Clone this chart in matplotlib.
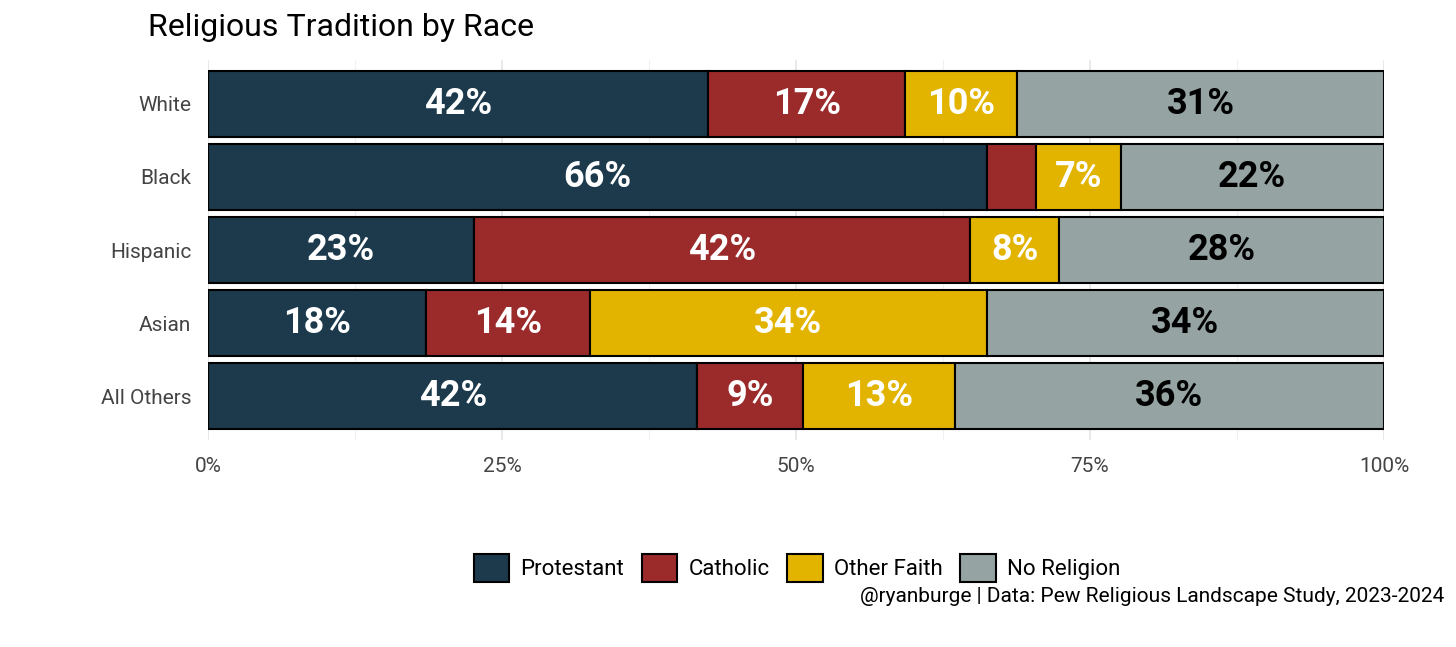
import numpy as np
import matplotlib.pyplot as plt

races = ["White", "Black", "Hispanic", "Asian", "All Others"]
traditions = ["Protestant", "Catholic", "Other Faith", "No Religion"]
protestant = [42.5, 66.2, 22.6, 18.5, 41.6]
catholic = [16.8, 4.2, 42.2, 14.0, 9.0]
other_faith = [9.5, 7.2, 7.6, 33.7, 12.9]
no_religion = [31.2, 22.4, 27.6, 33.8, 36.5]

colors = ["#1C3A4C", "#9B2A2B", "#E2B400", "#95A3A3"]
text_colors = ["white", "white", "white", "black"]

plt.rcParams['font.family'] = ['Roboto', 'DejaVu Sans']

fig = plt.figure(figsize=(14.56, 6.47), dpi=100)
ax = fig.add_axes([208 / 1456, 1 - 440 / 647, 1176 / 1456, 380 / 647])

series = [protestant, catholic, other_faith, no_religion]
y = np.arange(len(races))
left = np.zeros(len(races))
for vals, name, col, tc in zip(series, traditions, colors, text_colors):
    vals = np.array(vals)
    ax.barh(y, vals, left=left, height=0.9, color=col, edgecolor="black",
            linewidth=1.5, label=name, zorder=3)
    for yi, (l, v) in enumerate(zip(left, vals)):
        if v >= 5:
            ax.text(l + v / 2, yi, f"{round(v)}%", ha="center", va="center",
                    color=tc, fontsize=26, fontweight="bold", zorder=4)
    left += vals

ax.set_xlim(0, 100)
ax.set_ylim(len(races) - 0.5 + 0.1, -0.6)
ax.set_yticks(y)
ax.set_yticklabels(races, fontsize=15, color="#444444")
ax.set_xticks([0, 25, 50, 75, 100])
ax.set_xticklabels(["0%", "25%", "50%", "75%", "100%"], fontsize=15, color="#444444")
ax.set_xticks([12.5, 37.5, 62.5, 87.5], minor=True)
ax.tick_params(length=0, which="both", pad=12)
ax.grid(True, which="major", color="#E5E5E5", linewidth=1.2, zorder=0)
ax.grid(True, which="minor", axis="x", color="#F0F0F0", linewidth=0.8, zorder=0)
for s in ax.spines.values():
    s.set_visible(False)

fig.text(148 / 1456, 1 - 27 / 647, "Religious Tradition by Race", fontsize=23,
         va="center", ha="left")
handles, labels = ax.get_legend_handles_labels()
fig.legend(handles, labels, loc="center", bbox_to_anchor=(797 / 1456, 1 - 568 / 647),
           ncol=4, frameon=False, fontsize=16, handlelength=1.6, handleheight=1.6,
           columnspacing=0.8, handletextpad=0.5)
fig.text(1444 / 1456, 1 - 596 / 647, "@ryanburge | Data: Pew Religious Landscape Study, 2023-2024",
         fontsize=15, ha="right", va="center")

fig.savefig("out.png", dpi=100, facecolor="white")
